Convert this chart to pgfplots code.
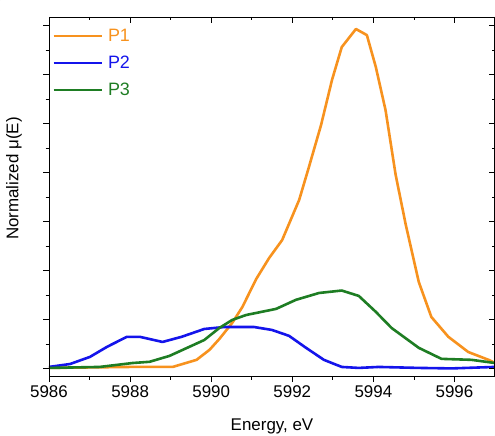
\documentclass[border=0pt]{standalone}
\usepackage{fontspec}
\setmainfont{Liberation Sans}
\usepackage{pgfplots}
\pgfplotsset{compat=1.18}

\definecolor{pone}{RGB}{247,146,30}
\definecolor{ptwo}{RGB}{20,20,235}
\definecolor{pthree}{RGB}{30,125,35}

\begin{document}
\begin{tikzpicture}
\pgfplotsset{
  common/.style={
    width=446bp, height=359bp, scale only axis,
    xmin=5986, xmax=5997, ymin=-0.031, ymax=1.435,
    axis lines=box,
    xtick={5986,5988,5990,5992,5994,5996},
    minor xtick={5987,5989,5991,5993,5995,5997},
    ytick={0,0.2,0.4,0.6,0.8,1.0,1.2,1.4},
    minor ytick={0.1,0.3,0.5,0.7,0.9,1.1,1.3},
    major tick length=6bp, minor tick length=3.5bp,
    every tick/.style={black, line width=0.8bp},
    axis line style={black, line width=0.9bp},
    font=\fontsize{17}{20}\selectfont,
    /pgf/number format/assume math mode=true,
    /pgf/number format/set thousands separator={},
  }
}
\begin{axis}[common, name=main,
  tick align=outside, xtick pos=bottom, ytick pos=left,
  yticklabels={},
  xlabel={Energy, eV}, ylabel={Normalized μ(E)},
  xlabel style={at={(axis description cs:0.5,-0.152)}, anchor=base},
  ylabel style={at={(axis description cs:-0.053,0.55)}, anchor=south},
  legend cell align=left,
  legend style={draw=none, fill=none, at={(axis description cs:0.005,0.975)}, anchor=north west,
    row sep=9bp, inner sep=1bp, font=\fontsize{18}{20}\selectfont,
    nodes={inner xsep=5bp}},
  legend image code/.code={\draw[#1] (0bp,0bp) -- (48bp,0bp);},
  every axis plot/.append style={line width=2.6bp, line join=round},
]
\addplot[pone] coordinates {
(5986.00,0.002) (5988.00,0.006) (5989.05,0.006) (5989.64,0.035) (5989.96,0.076)
(5990.20,0.120) (5990.52,0.186) (5990.77,0.251) (5991.11,0.365) (5991.43,0.451)
(5991.75,0.524) (5992.17,0.688) (5992.41,0.822) (5992.71,0.994) (5992.98,1.178)
(5993.22,1.312) (5993.57,1.386) (5993.84,1.361) (5994.06,1.231) (5994.30,1.055)
(5994.55,0.790) (5994.80,0.586) (5995.12,0.353) (5995.43,0.210) (5995.85,0.129)
(5996.34,0.067) (5996.84,0.035) (5997.00,0.022)
};
\addlegendentry{\textcolor{pone}{P1}}
\addplot[ptwo] coordinates {
(5986.00,0.006) (5986.52,0.018) (5987.01,0.047) (5987.43,0.088) (5987.92,0.129)
(5988.24,0.129) (5988.80,0.108) (5989.27,0.129) (5989.83,0.161) (5990.32,0.169)
(5991.06,0.169) (5991.50,0.157) (5991.92,0.133) (5992.34,0.084) (5992.78,0.035)
(5993.22,0.006) (5993.64,0.002) (5994.13,0.006) (5995.12,0.002) (5995.93,0.000)
(5997.00,0.006)
};
\addlegendentry{\textcolor{ptwo}{P2}}
\addplot[pthree] coordinates {
(5986.00,0.002) (5987.25,0.006) (5988.06,0.022) (5988.48,0.027) (5988.97,0.051)
(5989.46,0.088) (5989.83,0.116) (5990.20,0.165) (5990.52,0.198) (5990.86,0.218)
(5991.60,0.243) (5992.09,0.280) (5992.66,0.308) (5993.22,0.318) (5993.64,0.296)
(5994.06,0.231) (5994.45,0.165) (5995.12,0.084) (5995.68,0.039) (5996.42,0.035)
(5997.00,0.022)
};
\addlegendentry{\textcolor{pthree}{P3}}
\end{axis}
\begin{axis}[common,
  tick align=inside, xtick pos=top, ytick pos=right,
  xticklabels={}, yticklabels={},
]
\end{axis}
\draw[black, line width=1.3bp] ([yshift=-0.7bp]main.north west) -- ([yshift=-0.7bp]main.north east);
\draw[black, line width=1.3bp] ([xshift=-0.7bp]main.north east) -- ([xshift=-0.7bp]main.south east);
\fill[white!99!black] ([xshift=-49bp,yshift=17bp]main.north west) rectangle ++(1bp,-1bp);
\fill[white!99!black] ([xshift=-1bp,yshift=-60bp]main.south east) rectangle ++(1bp,1bp);
\pgfresetboundingbox
\path[use as bounding box] ([xshift=-49bp,yshift=-60bp]main.south west)
  rectangle ([yshift=17bp]main.north east);
\end{tikzpicture}
\end{document}
